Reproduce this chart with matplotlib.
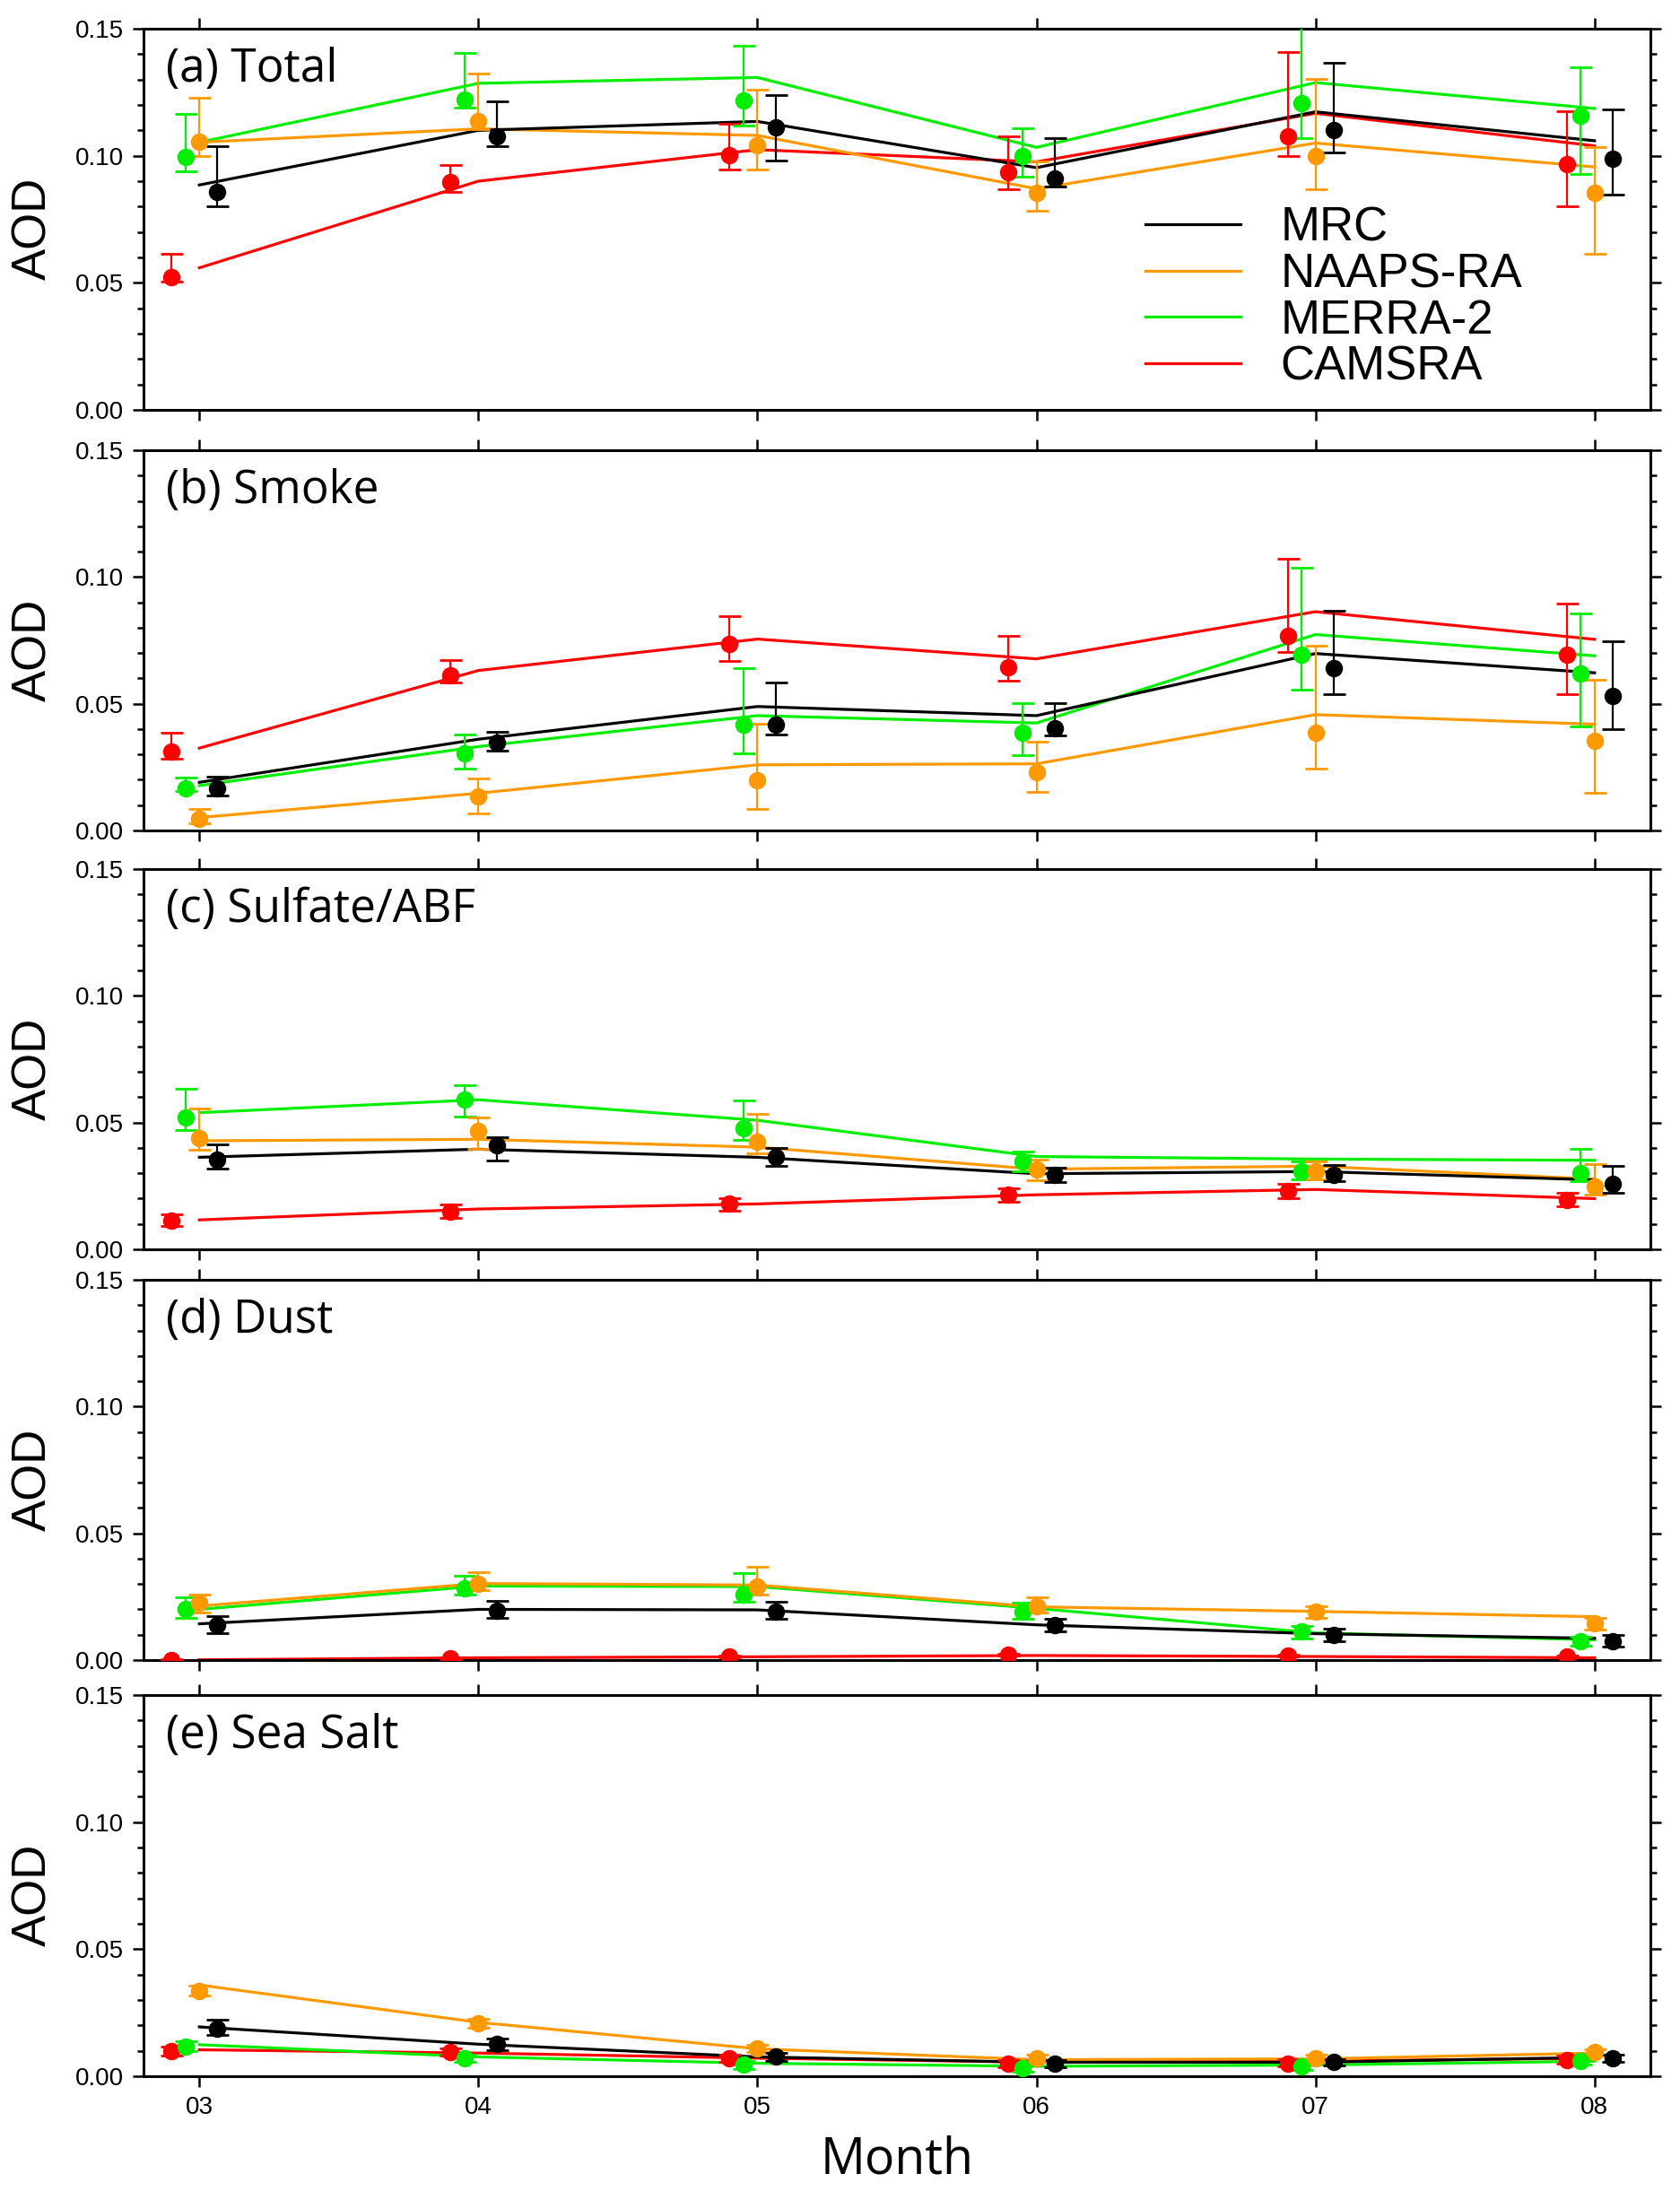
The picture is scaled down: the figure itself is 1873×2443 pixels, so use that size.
import matplotlib
matplotlib.use('Agg')
import matplotlib.pyplot as plt
from matplotlib.ticker import MultipleLocator, FormatStrFormatter
import numpy as np

# months on the x axis
months = [3, 4, 5, 6, 7, 8]
month_labels = ["03", "04", "05", "06", "07", "08"]

models = ["MRC", "NAAPS-RA", "MERRA-2", "CAMSRA"]
colors = ["black", "#FF9900", "#00EE00", "#FF0000"]
offsets = [0.065, 0.0, -0.05, -0.10]

panel_titles = ["(a) Total", "(b) Smoke", "(c) Sulfate/ABF", "(d) Dust", "(e) Sea Salt"]

# rows: MRC, NAAPS-RA, MERRA-2, CAMSRA
# line = monthly mean, dot = median, lo/hi = error bar ends
total_line = [[0.0885, 0.110, 0.1135, 0.0953, 0.1173, 0.1059],
              [0.1053, 0.1106, 0.108, 0.087, 0.105, 0.0956],
              [0.1053, 0.1285, 0.1308, 0.1033, 0.1288, 0.1186],
              [0.0559, 0.090, 0.1024, 0.0976, 0.1167, 0.1039]]
total_dot = [[0.0859, 0.1076, 0.1112, 0.0912, 0.110, 0.0988],
             [0.1056, 0.1135, 0.1041, 0.0853, 0.100, 0.0853],
             [0.0994, 0.122, 0.1218, 0.0998, 0.1206, 0.1159],
             [0.0524, 0.0898, 0.1004, 0.0935, 0.1076, 0.0967]]
total_hi = [[0.1038, 0.1215, 0.124, 0.107, 0.1367, 0.1182],
            [0.1229, 0.1324, 0.1259, 0.0976, 0.1304, 0.1035],
            [0.1165, 0.1405, 0.1433, 0.111, 0.1508, 0.1347],
            [0.0614, 0.0962, 0.1126, 0.1076, 0.1409, 0.1176]]
total_lo = [[0.080, 0.1038, 0.0982, 0.088, 0.1012, 0.0847],
            [0.100, 0.1106, 0.0945, 0.0785, 0.0868, 0.0615],
            [0.0938, 0.1188, 0.112, 0.0918, 0.107, 0.0929],
            [0.0506, 0.0859, 0.0945, 0.0868, 0.100, 0.080]]

smoke_line = [[0.019, 0.036, 0.0489, 0.0453, 0.0698, 0.0622],
              [0.0051, 0.0147, 0.0259, 0.0263, 0.0457, 0.0419],
              [0.0177, 0.0331, 0.0453, 0.0424, 0.0773, 0.0689],
              [0.0325, 0.0631, 0.0755, 0.0677, 0.0863, 0.0754]]
smoke_dot = [[0.0165, 0.0345, 0.0419, 0.0404, 0.064, 0.053],
             [0.0045, 0.0133, 0.0198, 0.0231, 0.0386, 0.0355],
             [0.0165, 0.0304, 0.0416, 0.0384, 0.0693, 0.062],
             [0.0312, 0.0612, 0.0737, 0.0645, 0.0769, 0.0693]]
smoke_hi = [[0.0214, 0.0389, 0.0583, 0.0502, 0.0867, 0.0748],
            [0.0085, 0.0204, 0.0422, 0.0351, 0.073, 0.0596],
            [0.0207, 0.0377, 0.064, 0.0502, 0.1038, 0.0857],
            [0.0386, 0.0673, 0.0846, 0.0766, 0.1072, 0.0895]]
smoke_lo = [[0.0139, 0.0316, 0.0377, 0.0375, 0.0537, 0.0398],
            [0.003, 0.0068, 0.0086, 0.0151, 0.0245, 0.0147],
            [0.0154, 0.0243, 0.0306, 0.0298, 0.0554, 0.041],
            [0.0283, 0.0583, 0.0669, 0.0592, 0.0704, 0.0539]]

sulf_line = [[0.0363, 0.0395, 0.0363, 0.0298, 0.0307, 0.0274],
             [0.0428, 0.0434, 0.0403, 0.0316, 0.0328, 0.0277],
             [0.0539, 0.059, 0.0509, 0.0366, 0.0356, 0.0351],
             [0.0116, 0.0159, 0.0179, 0.0215, 0.0236, 0.020]]
sulf_dot = [[0.0354, 0.041, 0.0366, 0.0295, 0.0295, 0.0257],
            [0.0439, 0.0466, 0.0425, 0.0315, 0.0307, 0.0248],
            [0.0519, 0.059, 0.0478, 0.0348, 0.0307, 0.0301],
            [0.0112, 0.015, 0.0179, 0.0215, 0.023, 0.0195]]
sulf_hi = [[0.0413, 0.0442, 0.0401, 0.0321, 0.0333, 0.033],
           [0.0557, 0.0519, 0.0533, 0.0354, 0.0348, 0.0336],
           [0.0634, 0.0646, 0.0587, 0.0387, 0.0348, 0.0395],
           [0.0138, 0.0177, 0.020, 0.0242, 0.0259, 0.0222]]
sulf_lo = [[0.0318, 0.0351, 0.0328, 0.0265, 0.0269, 0.0224],
           [0.0392, 0.0395, 0.038, 0.0274, 0.0277, 0.0215],
           [0.0469, 0.0525, 0.043, 0.0307, 0.0277, 0.0269],
           [0.0091, 0.0124, 0.0153, 0.0189, 0.0203, 0.0171]]

dust_line = [[0.0143, 0.020, 0.0198, 0.0139, 0.0104, 0.0086],
             [0.0213, 0.0302, 0.0296, 0.021, 0.0192, 0.0171],
             [0.020, 0.0292, 0.029, 0.0204, 0.0107, 0.008],
             [0.0001, 0.0009, 0.0013, 0.0018, 0.0014, 0.0009]]
dust_dot = [[0.0137, 0.0194, 0.0192, 0.0137, 0.010, 0.0074],
            [0.0227, 0.0302, 0.0289, 0.0213, 0.0192, 0.0145],
            [0.020, 0.0284, 0.0257, 0.0192, 0.0112, 0.0074],
            [0.0, 0.0007, 0.0015, 0.0021, 0.0018, 0.0015]]
dust_hi = [[0.0174, 0.0232, 0.0231, 0.0163, 0.0124, 0.0098],
           [0.0259, 0.0347, 0.0369, 0.0249, 0.0213, 0.0168],
           [0.0249, 0.0331, 0.0342, 0.0225, 0.0135, 0.0092],
           [0.0003, 0.0010, 0.0018, 0.0024, 0.0021, 0.0018]]
dust_lo = [[0.0107, 0.0166, 0.0163, 0.0112, 0.0074, 0.0053],
           [0.0186, 0.0277, 0.0257, 0.0186, 0.0166, 0.0121],
           [0.0168, 0.026, 0.023, 0.0163, 0.0086, 0.0057],
           [0.0, 0.0004, 0.0012, 0.0018, 0.0015, 0.0012]]

salt_line = [[0.0194, 0.0126, 0.0076, 0.0055, 0.0055, 0.0074],
             [0.0359, 0.0212, 0.0108, 0.0065, 0.0068, 0.0091],
             [0.0124, 0.0076, 0.0051, 0.0039, 0.0044, 0.0059],
             [0.0104, 0.0091, 0.0071, 0.0055, 0.0059, 0.0071]]
salt_dot = [[0.0188, 0.0126, 0.0076, 0.0051, 0.0055, 0.0071],
            [0.0335, 0.0208, 0.0109, 0.0071, 0.0071, 0.0094],
            [0.0118, 0.0071, 0.0045, 0.0032, 0.0039, 0.0059],
            [0.010, 0.0094, 0.0071, 0.0051, 0.0051, 0.0065]]
salt_hi = [[0.0222, 0.0150, 0.0092, 0.0064, 0.0068, 0.0085],
           [0.0358, 0.0226, 0.0124, 0.0084, 0.0084, 0.0106],
           [0.0136, 0.0086, 0.0060, 0.0046, 0.0052, 0.0072],
           [0.0118, 0.0108, 0.0084, 0.0064, 0.0066, 0.0080]]
salt_lo = [[0.0162, 0.0104, 0.0060, 0.0036, 0.0042, 0.0058],
           [0.0316, 0.0190, 0.0094, 0.0056, 0.0058, 0.0080],
           [0.0100, 0.0056, 0.0030, 0.0018, 0.0026, 0.0046],
           [0.0082, 0.0080, 0.0056, 0.0036, 0.0038, 0.0050]]

panels = [(total_line, total_dot, total_lo, total_hi),
          (smoke_line, smoke_dot, smoke_lo, smoke_hi),
          (sulf_line, sulf_dot, sulf_lo, sulf_hi),
          (dust_line, dust_dot, dust_lo, dust_hi),
          (salt_line, salt_dot, salt_lo, salt_hi)]

W, H = 1873, 2443
fig = plt.figure(figsize=(W / 100, H / 100), dpi=100)

# axes boxes in pixels (top, bottom)
boxes = [(32, 457), (502, 926), (969, 1393), (1427, 1851), (1890, 2315)]
x0, x1 = 160, 1840

tick_font = 'Liberation Sans'
label_font = 'Open Sans'

axes = []
for i, (top, bot) in enumerate(boxes):
    ax = fig.add_axes([x0 / W, 1 - bot / H, (x1 - x0) / W, (bot - top) / H])
    line, dot, lo, hi = panels[i]
    x = np.array(months, dtype=float)
    # draw CAMSRA first, MRC last
    for k in [3, 2, 1, 0]:
        d = np.array(dot[k])
        yerr = [d - np.array(lo[k]), np.array(hi[k]) - d]
        ax.errorbar(x + offsets[k], d, yerr=yerr, fmt='o', color=colors[k],
                    ms=13, elinewidth=1.6, capsize=9, capthick=2.0, zorder=3)
    handles = []
    for k in [3, 2, 1, 0]:
        h, = ax.plot(x, line[k], color=colors[k], lw=2.3, zorder=2, label=models[k])
        handles.append(h)

    ax.set_xlim(2.8, 8.2)
    ax.set_ylim(0, 0.15)
    ax.set_xticks(months)
    ax.yaxis.set_major_locator(MultipleLocator(0.05))
    ax.yaxis.set_minor_locator(MultipleLocator(0.01))
    ax.yaxis.set_major_formatter(FormatStrFormatter('%.2f'))
    ax.tick_params(which='both', direction='out', left=True, right=True,
                   top=True, bottom=True, width=1.8)
    ax.tick_params(which='major', length=8.5, pad=7)
    ax.tick_params(which='minor', length=5)
    for sp in ax.spines.values():
        sp.set_linewidth(2.2)
    if i < 4:
        ax.set_xticklabels([])
    else:
        ax.set_xticklabels(month_labels)
    for lab in ax.get_xticklabels() + ax.get_yticklabels():
        lab.set_fontfamily(tick_font)
        lab.set_fontsize(20)

    ax.text(0.015, 0.862, panel_titles[i], transform=ax.transAxes,
            fontsize=37, family=label_font, ha='left', va='baseline')
    ax.text(-0.073, 0.475, 'AOD', transform=ax.transAxes, rotation=90,
            fontsize=38, family=tick_font, ha='center', va='center')

    if i == 0:
        leg = ax.legend(handles=handles[::-1], loc='upper left',
                        bbox_to_anchor=(0.665, 0.535), frameon=False,
                        prop={'family': tick_font, 'size': 38},
                        handlelength=2.0, handletextpad=0.85,
                        labelspacing=0.03, borderpad=0, borderaxespad=0)
    axes.append(ax)

axes[-1].text(0.5, -0.222, 'Month', transform=axes[-1].transAxes,
              fontsize=40, family=label_font, ha='center', va='center')

fig.savefig('out.png', dpi=100)
